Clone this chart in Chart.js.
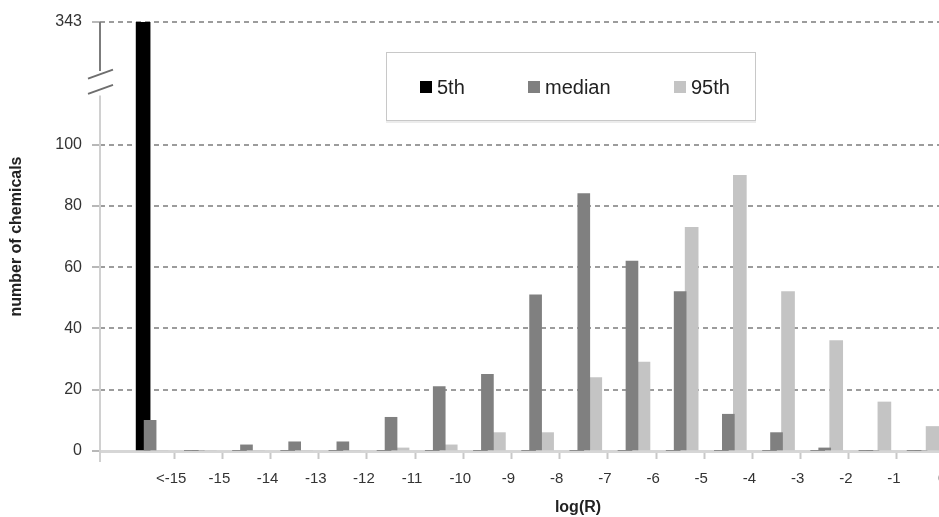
<!DOCTYPE html>
<html><head><meta charset="utf-8">
<script src="https://cdn.jsdelivr.net/npm/chart.js@4.4.1/dist/chart.umd.min.js"></script>
<style>
html,body{margin:0;padding:0;overflow:hidden;width:939px;height:517px;background:#fff;}
#wrap{position:relative;width:1056px;height:517px;}
#legend{position:absolute;left:386px;top:52px;width:368px;height:67px;border:1px solid #c8c8c8;background:#fff;box-shadow:0 2px 0 #ececec;font-family:'Liberation Sans',Arial,sans-serif;font-size:20px;color:#222;}
.item{position:absolute;top:24px;height:20px;line-height:20px;display:flex;align-items:center;white-space:nowrap;}
.sw{display:inline-block;width:12px;height:12px;margin-right:5px;}
</style></head><body>
<div id="wrap"><canvas id="c" width="1056" height="517" style="width:1056px;height:517px"></canvas><div id="legend"></div></div>
<script>
// ---- data ----
const categories = ['<-15','-15','-14','-13','-12','-11','-10','-9','-8','-7','-6','-5','-4','-3','-2','-1','0'];
const p5th   = [343,0,0,0,0,0,0,0,0,0,0,0,0,0,0,0,0];
const median = [10,0,2,3,3,11,21,25,51,84,62,52,12,6,1,0,0];
const p95th  = [0,0,0,0,0,1,2,6,6,24,29,73,90,52,36,16,8];
const yTickValues = [0,20,40,60,80,100,343];
const seriesNames = ['5th','median','95th'];
const seriesColors = ['#000000','#808080','#c4c4c4'];

// ---- layout constants (styling only) ----
const FONT = "'Liberation Sans', Arial, sans-serif";
const BREAK_LOW = 100, AXIS_TOP = 140;   // values above BREAK_LOW are drawn at the broken top
const X_MIN = -1.04, X_MAX = 18.8;
const PX_PER_UNIT = 956 / (X_MAX - X_MIN);
const SHIFT_5TH = -7 / PX_PER_UNIT, SHIFT_95TH = 11.5 / PX_PER_UNIT;

Chart.defaults.font.family = FONT;

// legend (HTML box)
const legendLeft = [33, 141, 287];
const lg = document.getElementById('legend');
seriesNames.forEach((n, i) => {
  const d = document.createElement('div');
  d.className = 'item'; d.style.left = legendLeft[i] + 'px';
  d.innerHTML = '<span class="sw" style="background:' + seriesColors[i] + '"></span><span>' + n + '</span>';
  lg.appendChild(d);
});

const breakPlugin = {
  id: 'axisBreak',
  afterDraw(chart) {
    const ys = chart.scales.y, ctx = chart.ctx, x0 = ys.right;
    const area = chart.chartArea;
    ctx.save();
    ctx.lineWidth = 2;
    ctx.strokeStyle = '#7c7c7c';
    ctx.beginPath(); ctx.moveTo(x0, ys.getPixelForValue(AXIS_TOP)); ctx.lineTo(x0, ys.getPixelForValue(124)); ctx.stroke();
    ctx.strokeStyle = '#d0d0d0';
    ctx.beginPath(); ctx.moveTo(x0, ys.getPixelForValue(116)); ctx.lineTo(x0, area.bottom + 11); ctx.stroke();
    ctx.strokeStyle = '#6e6e6e';
    [123, 118].forEach(v => {
      const p = ys.getPixelForValue(v);
      ctx.beginPath(); ctx.moveTo(x0 - 12, p + 4.5); ctx.lineTo(x0 + 13, p - 4.5); ctx.stroke();
    });
    ctx.restore();
  }
};

new Chart(document.getElementById('c'), {
  type: 'bar',
  data: {
    labels: categories.map((_, i) => i),
    datasets: [
      {label: seriesNames[0], data: p5th, backgroundColor: seriesColors[0], xAxisID: 'x5', grouped: false, barThickness: 14, clip: 0, order: 1},
      {label: seriesNames[1], data: median, backgroundColor: seriesColors[1], xAxisID: 'x', grouped: false, barThickness: 12, order: 0},
      {label: seriesNames[2], data: p95th, backgroundColor: seriesColors[2], xAxisID: 'x95', grouped: false, barThickness: 13, order: 0}
    ]
  },
  options: {
    responsive: false,
    animation: false,
    devicePixelRatio: 1,
    layout: {padding: {top: 22, left: 0, right: 0, bottom: 0}},
    plugins: {legend: {display: false}, tooltip: {enabled: false}},
    scales: {
      x: {
        type: 'linear', min: X_MIN, max: X_MAX, bounds: 'data', offset: false,
        afterBuildTicks: s => { s.ticks = categories.map((_, i) => ({value: i + 0.5})); },
        ticks: {callback: (v, i) => categories[i], autoSkip: false, maxRotation: 0, padding: 11, labelOffset: -3,
                font: {size: 15}, color: '#333'},
        grid: {offset: false, drawOnChartArea: false, drawTicks: true, tickLength: 8, tickColor: '#c8c8c8', tickWidth: 2},
        border: {display: true, color: '#d6d6d6', width: 3},
        title: {display: true, text: 'log(R)', font: {size: 16, weight: 'bold'}, color: '#222', padding: {top: 0, bottom: 0}},
        afterFit: s => { s.height = 66; }
      },
      x5: {type: 'linear', display: false, offset: false, min: X_MIN - SHIFT_5TH, max: X_MAX - SHIFT_5TH, bounds: 'data', grid: {display: false, offset: false}},
      x95: {type: 'linear', display: false, offset: false, min: X_MIN - SHIFT_95TH, max: X_MAX - SHIFT_95TH, bounds: 'data', grid: {display: false, offset: false}},
      y: {
        type: 'linear', min: 0, max: AXIS_TOP, bounds: 'data',
        afterBuildTicks: s => { s.ticks = yTickValues.map(v => ({value: v > BREAK_LOW ? AXIS_TOP : v})); },
        ticks: {callback: (v, i) => String(yTickValues[i]), padding: 10, font: {size: 16}, color: '#333'},
        grid: {color: c => (c.tick && c.tick.value === 0) ? 'rgba(0,0,0,0)' : '#9c9c9c', lineWidth: 2,
               tickLength: 8, tickColor: '#b8b8b8', tickWidth: 2},
        border: {display: false, dash: [5, 4]},
        title: {display: true, text: 'number of chemicals', font: {size: 16, weight: 'bold'}, color: '#222', padding: {top: 7, bottom: 0}},
        afterFit: s => { s.width = 100; }
      }
    }
  },
  plugins: [breakPlugin]
});
</script>
</body></html>
